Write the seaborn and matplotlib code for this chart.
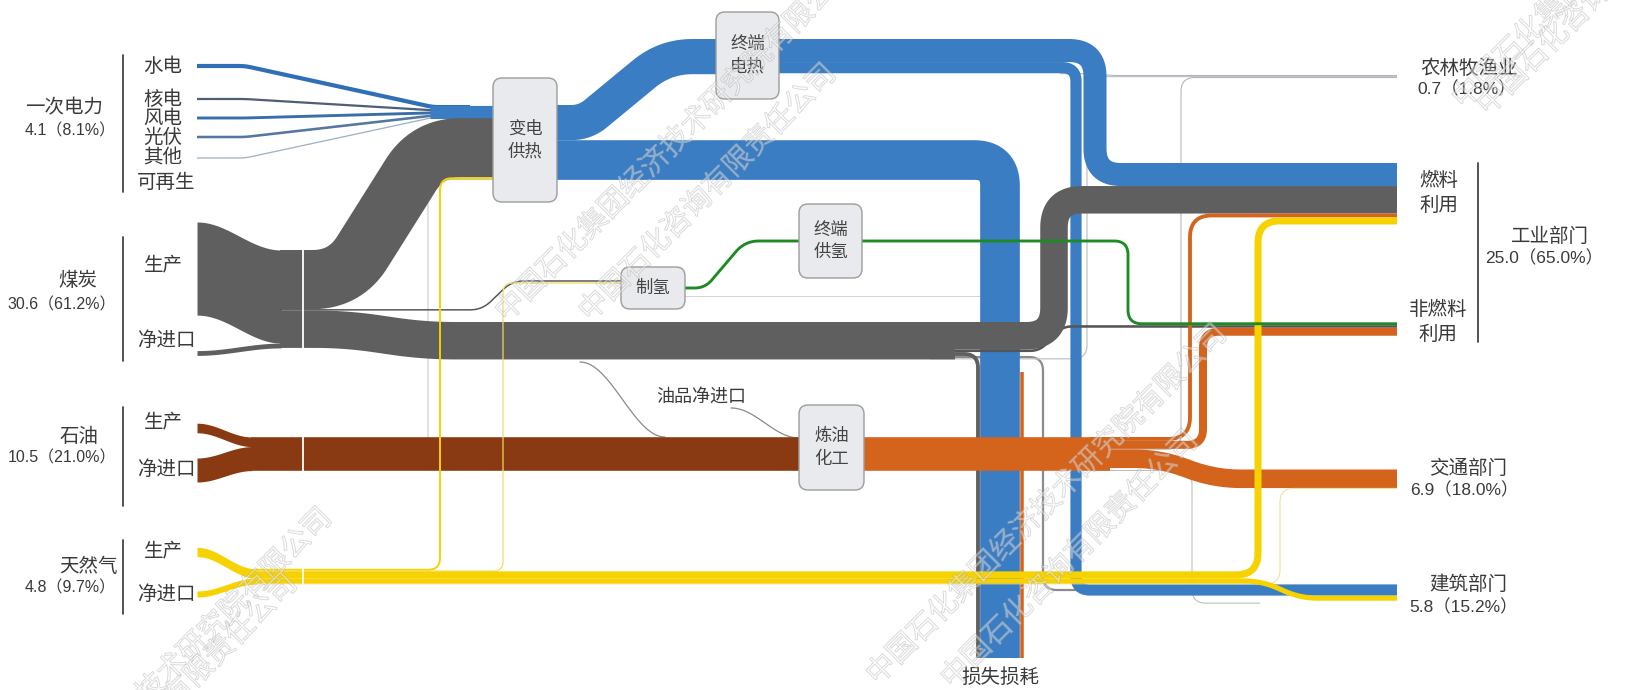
import numpy as np
import seaborn as sns
import matplotlib.pyplot as plt
import matplotlib.patheffects as pe
from matplotlib.patches import FancyBboxPatch

# ---------------- 数据（亿吨标准煤） ----------------
src_names = ['一次电力', '煤炭', '石油', '天然气']
src_vals = [4.1, 30.6, 10.5, 4.8]
src_pct = [8.1, 61.2, 21.0, 9.7]

prim_names = ['水电', '核电', '风电', '光伏', '其他']
prim_vals = [1.3, 0.7, 0.9, 0.8, 0.4]

coal_src = [29.1, 1.5]   # 生产, 净进口
oil_src = [3.0, 7.5]
gas_src = [2.9, 1.9]

coal_to = [18.5, 0.4, 11.7]               # 发电供热, 制氢, 终端
gas_to = [0.6, 0.2, 2.2, 1.6, 0.2]        # 发电供热, 制氢, 工业燃料, 建筑, 交通
oil_power = 0.2
power_out = [11.0, 12.4]                  # 终端电热, 损失损耗
elec_to = [7.2, 3.5, 0.3]                 # 工业燃料, 建筑, 农林牧渔
coal_end = [8.6, 0.8, 1.2, 0.7, 0.4]      # 工业燃料, 非燃料, 损失, 建筑, 农林牧渔
oil_to = [1.2, 2.5, 0.2, 5.8, 0.7, 0.1]   # 工业燃料, 非燃料, 农林牧渔, 交通, 损失, 建筑
h2_use = 0.9

sec_names = ['农林牧渔业', '工业部门', '交通部门', '建筑部门']
sec_vals = [0.7, 25.0, 6.9, 5.8]
sec_pct = [1.8, 65.0, 18.0, 15.2]

# ---------------- 样式 ----------------
S = 3.2            # 像素 / 单位
DPI = 100
PT = 72 / DPI
BLUE, COAL, CRUDE, OIL, GAS, H2 = '#3b7dc2', '#5f5f5f', '#8a3a12', '#d4631c', '#f6d200', '#1d8a24'
TXT = '#3a3a3a'
YB = 658           # 损失损耗柱底

sns.set_theme(style='white')
plt.rcParams['font.family'] = ['Noto Sans CJK SC', 'DejaVu Sans']
fig = plt.figure(figsize=(16.28, 6.9), dpi=DPI)
ax = fig.add_axes([0, 0, 1, 1])


def rounded(pts, r):
    pts = np.asarray(pts, dtype=float)
    out = [pts[0]]
    t = np.linspace(0, 1, 24)[:, None]
    for i in range(1, len(pts) - 1):
        p0, p1, p2 = pts[i - 1], pts[i], pts[i + 1]
        d1 = p1 - p0
        l1 = np.hypot(*d1)
        d2 = p2 - p1
        l2 = np.hypot(*d2)
        if l1 == 0 or l2 == 0:
            continue
        d1, d2 = d1 / l1, d2 / l2
        rr = min(r, l1 / 2, l2 / 2)
        a, b = p1 - d1 * rr, p1 + d2 * rr
        out.extend((1 - t) ** 2 * a + 2 * (1 - t) * t * p1 + t ** 2 * b)
    out.append(pts[-1])
    return np.array(out)


def band(pts, v, color, r=20, z=2, minw=0.0):
    p = rounded(pts, r)
    w = max(v * S, minw)
    sns.lineplot(x=p[:, 0], y=p[:, 1], sort=False, estimator=None, ax=ax, color=color,
                 linewidth=w * PT, zorder=z, legend=False,
                 solid_capstyle='butt', solid_joinstyle='round')


def ribbon(x0, x1, top0, top1, w, color, z=3):
    x = np.linspace(x0, x1, 80)
    s = (1 - np.cos(np.pi * (x - x0) / (x1 - x0))) / 2
    t = top0 + (top1 - top0) * s
    ax.fill_between(x, t, t + w, color=color, lw=0, zorder=z)


def curve(x0, y0, x1, y1, color, lw=0.9, z=1.5):
    x = np.linspace(x0, x1, 60)
    s = (1 - np.cos(np.pi * (x - x0) / (x1 - x0))) / 2
    sns.lineplot(x=x, y=y0 + (y1 - y0) * s, sort=False, estimator=None, ax=ax,
                 color=color, linewidth=lw, zorder=z, legend=False)


def stack(top, vals):
    w = np.asarray(vals) * S
    e = top + np.concatenate([[0], np.cumsum(w)])
    return (e[:-1] + e[1:]) / 2


XE = 1397
# 终端部门堆叠中心
fuel_c = stack(163, [elec_to[0], coal_end[0], oil_to[0], gas_to[2]])
nonf_c = stack(322.3, [h2_use, coal_end[1], oil_to[1]])
agri_c = stack(75, [elec_to[2], coal_end[4], oil_to[2]])
trans_c = stack(469.5, [oil_to[3], gas_to[4]])
build_c = stack(584.4, [elec_to[1], gas_to[3], coal_end[3], oil_to[5]])

# ---------------- 一次电力 ----------------
p_in = stack(105, [sum(prim_vals), coal_to[0], gas_to[0], oil_power])
prim_c = stack(105, prim_vals)
prim_y = [66, 99, 118, 137, 158]
prim_cols = ['#2f6fb5', '#4f5f75', '#3a6ea8', '#55779f', '#9fb0c2']
for y0, y1, v, c in zip(prim_y, prim_c, prim_vals, prim_cols):
    band([(197, y0), (245, y0), (433, y1), (470, y1)], v, c, r=6, z=2)
band([(430, p_in[0]), (493, p_in[0])], sum(prim_vals), BLUE, z=2)

# ---------------- 发电供热输出 ----------------
po = stack(105, power_out)
up_c = 39 + power_out[0] * S / 2
band([(557, po[0]), (585, po[0]), (665, up_c), (720, up_c)], power_out[0], BLUE, r=30, z=2)
ec = stack(39, elec_to)
band([(700, ec[0]), (1095, ec[0]), (1095, fuel_c[0]), (XE, fuel_c[0])], elec_to[0], BLUE, r=26, z=2)
band([(700, ec[1]), (1076, ec[1]), (1076, build_c[0]), (XE, build_c[0])], elec_to[1], BLUE, r=14, z=2)
band([(1060, ec[2]), (1092, ec[2]), (1112, agri_c[0]), (XE, agri_c[0])], elec_to[2], '#a9b3bf', r=8, z=1, minw=1)
band([(557, po[1]), (1000, po[1]), (1000, YB)], power_out[1], BLUE, r=26, z=2)

# ---------------- 煤炭 ----------------
ctop = 250
ribbon(197, 281, 222, ctop, coal_src[0] * S, COAL)
ribbon(197, 281, 353 - coal_src[1] * S / 2, ctop + coal_src[0] * S, coal_src[1] * S, COAL)
cc = stack(ctop, coal_to)
band([(280, cc[0]), (345, cc[0]), (428, p_in[1]), (493, p_in[1])], coal_to[0], COAL, r=34, z=3)
band([(280, cc[1]), (482, cc[1]), (512, 281), (621, 281)], coal_to[1], '#555555', r=12, z=3, minw=1.5)
rest_top = 322
rest_c = rest_top + coal_to[2] * S / 2
band([(280, cc[2]), (345, cc[2]), (425, rest_c), (955, rest_c)], coal_to[2], COAL, r=30, z=3)
ce = stack(rest_top, coal_end)
band([(930, ce[0]), (1054, ce[0]), (1054, fuel_c[1]), (XE, fuel_c[1])], coal_end[0], COAL, r=28, z=3)
band([(930, ce[1]), (1040, ce[1]), (1062, nonf_c[1]), (XE, nonf_c[1])], coal_end[1], '#555555', r=10, z=2.9)
band([(930, ce[2]), (978, ce[2]), (978, YB)], coal_end[2], COAL, r=14, z=2.9)
band([(930, ce[3]), (1043, ce[3]), (1043, build_c[0]), (1085, build_c[0])], coal_end[3], '#8c8c8c', r=14, z=1.5)
band([(930, ce[4]), (1087, ce[4]), (1087, agri_c[1]), (XE, agri_c[1])], coal_end[4], '#c4c4c4', r=14, z=1.5)

# ---------------- 石油 ----------------
otop = 437
ribbon(197, 252, 428 - oil_src[0] * S / 2, otop, oil_src[0] * S, CRUDE, z=4)
ribbon(197, 252, 470 - oil_src[1] * S / 2, otop + oil_src[0] * S, oil_src[1] * S, CRUDE, z=4)
omid = otop + sum(oil_src) * S / 2
band([(251, omid), (800, omid)], sum(oil_src), CRUDE, z=4)
band([(863, omid), (1110, omid)], sum(oil_src), OIL, z=4)
oc = stack(otop, oil_to)
band([(1090, oc[0]), (1190, oc[0]), (1190, fuel_c[2]), (XE, fuel_c[2])], oil_to[0], OIL, r=22, z=4)
band([(1090, oc[1]), (1203, oc[1]), (1203, nonf_c[2]), (XE, nonf_c[2])], oil_to[1], OIL, r=16, z=4)
band([(1090, oc[2]), (1181, oc[2]), (1181, agri_c[2]), (XE, agri_c[2])], oil_to[2], '#b0b0b0', r=14, z=1.5, minw=1)
band([(1090, oc[3]), (1160, oc[3]), (1215, trans_c[0]), (XE, trans_c[0])], oil_to[3], OIL, r=26, z=4)
band([(1022, 372), (1022, YB)], oil_to[4], OIL, z=1.8, minw=3.5)
band([(1090, oc[5]), (1192, oc[5]), (1192, build_c[3]), (1260, build_c[3])], oil_to[5], '#b8b8b8', r=14, z=1.5, minw=1)
band([(428, omid), (428, p_in[3]), (493, p_in[3])], oil_power, '#c6c6c6', r=10, z=1.5, minw=1)
curve(580, 362, 665, 437, '#8a8a8a')
curve(731, 408, 799, 438, '#8a8a8a')

# ---------------- 天然气 ----------------
gtop = 568.8
ribbon(197, 256, 552 - gas_src[0] * S / 2, gtop, gas_src[0] * S, GAS, z=5)
ribbon(197, 256, 594 - gas_src[1] * S / 2, gtop + gas_src[0] * S, gas_src[1] * S, GAS, z=5)
gc = stack(gtop, gas_to)
band([(255, gc[0]), (440, gc[0]), (440, p_in[2]), (493, p_in[2])], gas_to[0], GAS, r=12, z=5)
band([(255, gc[1]), (503, gc[1]), (503, 283), (621, 283)], gas_to[1], '#f1dc5c', r=10, z=5, minw=1.2)
band([(255, gc[2]), (1258, gc[2]), (1258, fuel_c[3]), (XE, fuel_c[3])], gas_to[2], GAS, r=22, z=5)
band([(255, gc[3]), (1262, gc[3]), (1300, build_c[1]), (XE, build_c[1])], gas_to[3], GAS, r=18, z=5)
band([(255, gc[4]), (1280, gc[4]), (1280, trans_c[1]), (XE, trans_c[1])], gas_to[4], '#eee08e', r=14, z=4.5, minw=1)

# ---------------- 氢 ----------------
band([(684, 288), (705, 288), (745, 241), (1128, 241), (1128, nonf_c[0]), (XE, nonf_c[0])],
     h2_use, H2, r=14, z=6)
band([(684, 296), (980, 296)], 0, '#d4d4d4', z=1, minw=1)

# 白色分隔线
for y0, y1 in [(ctop, ctop + sum(coal_src) * S), (otop, otop + sum(oil_src) * S),
               (gtop, gtop + sum(gas_src) * S)]:
    ax.plot([303, 303], [y0, y1], color='white', lw=1.3, zorder=7)

# ---------------- 节点框 ----------------
boxes = [('变电\n供热', 493, 78, 64, 124), ('终端\n电热', 716, 12, 63, 87), ('制氢', 621, 267, 64, 42),
         ('终端\n供氢', 799, 204, 63, 74), ('炼油\n化工', 799, 405, 65, 85)]
for name, x, y, w, h in boxes:
    ax.add_patch(FancyBboxPatch((x, y), w, h, boxstyle='round,pad=0,rounding_size=9',
                                fc='#e9eaed', ec='#9c9c9c', lw=1, zorder=8))
    ax.text(x + w / 2, y + h / 2, name, ha='center', va='center', fontsize=12.5,
            color='#444444', linespacing=1.3, zorder=9)


def label(x, y, s, size=14, ha='center', num=False):
    fam = ['Liberation Sans', 'Noto Sans CJK SC'] if num else ['Noto Sans CJK SC', 'DejaVu Sans']
    ax.text(x, y, s, ha=ha, va='center', fontsize=size, color=TXT, family=fam, zorder=9)


# 左侧标签
src_pos = [(64, 108, 131), (78, 281, 305), (79, 436, 458), (88, 566, 588)]
for (x, y1, y2), n, v, p in zip(src_pos, src_names, src_vals, src_pct):
    label(x, y1, n)
    label(116, y2, f'{v:.1f}（{p:.1f}%）', size=11.5, ha='right', num=True)
for y0, y1 in [(55, 192), (237, 361), (407, 506), (540, 614)]:
    ax.plot([123, 123], [y0, y1], color='#444444', lw=1.3, zorder=9)
for n, y in zip(prim_names, prim_y):
    label(163, y, n)
label(166, 182, '可再生')
for y1, y2 in [(266, 340), (423, 469), (552, 594)]:
    label(163, y1, '生产')
    label(166, y2, '净进口')

# 右侧标签
label(1420, 68, sec_names[0], ha='left')
label(1417, 89, f'{sec_vals[0]:.1f}（{sec_pct[0]:.1f}%）', size=12.5, ha='left', num=True)
ax.text(1439, 193, '燃料\n利用', ha='center', va='center', fontsize=14, color=TXT,
        linespacing=1.2, zorder=9)
ax.text(1438, 322, '非燃料\n利用', ha='center', va='center', fontsize=14, color=TXT,
        linespacing=1.2, zorder=9)
ax.plot([1478, 1478], [163, 342], color='#444444', lw=1.3, zorder=9)
label(1550, 237, sec_names[1])
label(1544, 258, f'{sec_vals[1]:.1f}（{sec_pct[1]:.1f}%）', size=12.5, num=True)
label(1468, 468, sec_names[2])
label(1464, 490, f'{sec_vals[2]:.1f}（{sec_pct[2]:.1f}%）', size=12.5, num=True)
label(1468, 585, sec_names[3])
label(1464, 607, f'{sec_vals[3]:.1f}（{sec_pct[3]:.1f}%）', size=12.5, num=True)
label(1000, 677, '损失损耗')
label(701, 397, '油品净进口', size=13)

# ---------------- 水印 ----------------
wm_a = '中国石化集团经济技术研究院有限公司'
wm_b = '中国石化咨询有限责任公司'
for x, y, s in [(676, 142, wm_a), (708, 193, wm_b), (1047, 505, wm_a), (1070, 560, wm_b),
                (152, 689, wm_a), (169, 703, wm_b), (1633, -71, wm_a), (1606, -13, wm_b)]:
    ax.text(x, y, s, rotation=45, rotation_mode='anchor', ha='center', va='center',
            fontsize=21, color=(1, 1, 1, 0.22), zorder=10,
            path_effects=[pe.Stroke(linewidth=0.7, foreground=(0.6, 0.6, 0.6, 0.4)), pe.Normal()])

ax.set_xlim(0, 1628)
ax.set_ylim(690, 0)
ax.axis('off')
fig.savefig('out.png', dpi=DPI, facecolor='white')
